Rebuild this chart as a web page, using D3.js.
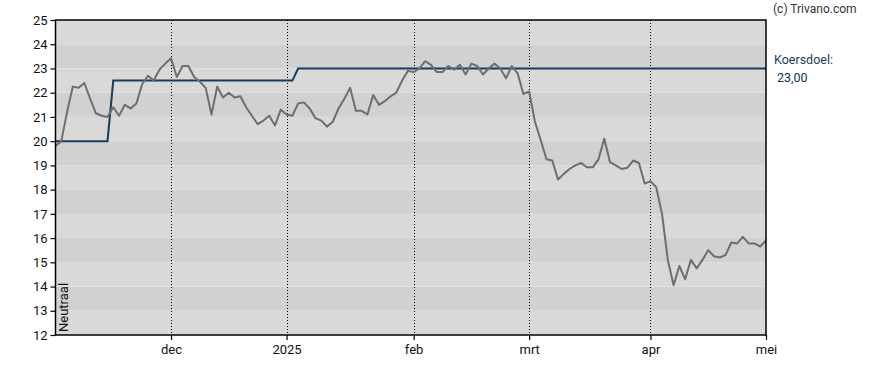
<!DOCTYPE html>
<html lang="nl">
<head>
<meta charset="UTF-8">
<title>Koers en koersdoel</title>
<script src="https://d3js.org/d3.v7.min.js"></script>
<style>
  body { margin: 0; background: #fff; }
  svg text { font-family: Roboto, "Liberation Sans", Arial, sans-serif; }
</style>
</head>
<body>
<script>
// slotkoersen per handelsdag (index 0 = eerste dag van de grafiek)
const prices = [
  19.8, 20.0, 21.2, 22.25, 22.2, 22.4, 21.75, 21.15, 21.05, 21.0,
  21.4, 21.05, 21.5, 21.35, 21.55, 22.35, 22.7, 22.5, 22.95, 23.2,
  23.42, 22.65, 23.1, 23.1, 22.65, 22.45, 22.2, 21.1, 22.25, 21.8,
  22.0, 21.8, 21.85, 21.4, 21.05, 20.7, 20.85, 21.05, 20.65, 21.3,
  21.1, 21.05, 21.55, 21.6, 21.35, 20.95, 20.85, 20.6, 20.8, 21.35,
  21.75, 22.2, 21.25, 21.25, 21.1, 21.9, 21.5, 21.65, 21.85, 22.0,
  22.5, 22.9, 22.85, 23.0, 23.3, 23.15, 22.85, 22.85, 23.1, 22.95,
  23.15, 22.75, 23.2, 23.1, 22.75, 23.0, 23.2, 23.0, 22.6, 23.1,
  22.8, 21.95, 22.05, 20.8, 20.05, 19.25, 19.2, 18.42, 18.65, 18.85,
  19.0, 19.1, 18.92, 18.92, 19.25, 20.1, 19.13, 19.0, 18.85, 18.9,
  19.2, 19.1, 18.25, 18.35, 18.1, 17.0, 15.1, 14.05, 14.85, 14.3,
  15.1, 14.75, 15.1, 15.5, 15.25, 15.2, 15.3, 15.82, 15.78, 16.05,
  15.78, 15.78, 15.65, 15.9
];

// koersdoel: waarde en de handelsdag waarop die ingaat
const targetValues = [20, 22.5, 23];
const targetStarts = [0, 10, 42];

const monthLabels = ["dec", "2025", "feb", "mrt", "apr", "mei"];
const monthIndex = [20, 40, 62, 82, 103, 123];

const yTicks = [12, 13, 14, 15, 16, 17, 18, 19, 20, 21, 22, 23, 24, 25];

const width = 888, height = 370;
const margin = { top: 20, right: 122, bottom: 35, left: 55.5 };

const svg = d3.select("body").append("svg")
  .attr("width", width)
  .attr("height", height);

const x = d3.scaleLinear()
  .domain([0, prices.length - 1])
  .range([margin.left, width - margin.right]);

const y = d3.scaleLinear()
  .domain([12, 25])
  .range([height - margin.bottom, margin.top]);

// koersdoel per dag uitschrijven uit de stappen
const target = prices.map((p, i) => {
  let v = targetValues[0];
  targetStarts.forEach((s, k) => { if (i >= s) v = targetValues[k]; });
  return v;
});

// grijze banden
svg.append("g").selectAll("rect")
  .data(yTicks.slice(0, -1))
  .join("rect")
  .attr("x", margin.left)
  .attr("width", x.range()[1] - margin.left)
  .attr("y", d => y(d + 1))
  .attr("height", d => y(d) - y(d + 1))
  .attr("fill", d => d % 2 === 0 ? "#d9d9d9" : "#d1d1d1");

// gestippelde maandlijnen
svg.append("g").selectAll("line")
  .data(monthIndex.slice(0, -1))
  .join("line")
  .attr("x1", d => Math.round(x(d)) + 0.5)
  .attr("x2", d => Math.round(x(d)) + 0.5)
  .attr("y1", y(25))
  .attr("y2", y(12))
  .attr("stroke", "#000")
  .attr("stroke-width", 1)
  .attr("stroke-dasharray", "1,2");

// koersdoel lijn
svg.append("path")
  .datum(target)
  .attr("fill", "none")
  .attr("stroke", "#143d5f")
  .attr("stroke-width", 2)
  .attr("d", d3.line().x((d, i) => x(i)).y(d => y(d)));

// koers
svg.append("path")
  .datum(prices)
  .attr("fill", "none")
  .attr("stroke", "#6e6e6e")
  .attr("stroke-width", 2)
  .attr("stroke-linejoin", "round")
  .attr("d", d3.line().x((d, i) => x(i)).y(d => y(d)));

// kader
svg.append("rect")
  .attr("x", margin.left)
  .attr("y", margin.top)
  .attr("width", x.range()[1] - margin.left)
  .attr("height", y(12) - y(25))
  .attr("fill", "none")
  .attr("stroke", "#000")
  .attr("stroke-width", 1.5);

// assen
const yAxis = svg.append("g")
  .attr("transform", `translate(${margin.left},0)`)
  .call(d3.axisLeft(y).tickValues(yTicks).tickSize(5).tickPadding(3).tickFormat(d3.format("d")));
yAxis.select(".domain").remove();
yAxis.selectAll("line").attr("stroke", "#000").attr("stroke-width", 1.2);
yAxis.selectAll("text").attr("font-size", 13).attr("fill", "#111");

const xAxis = svg.append("g")
  .attr("transform", `translate(0,${y(12)})`)
  .call(d3.axisBottom(x).tickValues(monthIndex).tickSize(5).tickPadding(5)
    .tickFormat((d, i) => monthLabels[i]));
xAxis.select(".domain").remove();
xAxis.selectAll("line").attr("stroke", "#000").attr("stroke-width", 1.2);
xAxis.selectAll("text").attr("font-size", 13).attr("fill", "#111");

// teksten
svg.append("text")
  .attr("transform", `translate(68,${y(12) - 3}) rotate(-90)`)
  .attr("font-size", 13)
  .attr("fill", "#111")
  .text("Neutraal");

svg.append("text")
  .attr("x", 773).attr("y", 13)
  .attr("font-size", 12)
  .attr("fill", "#333")
  .text("(c) Trivano.com");

svg.append("text")
  .attr("x", 774).attr("y", 64)
  .attr("font-size", 12.5)
  .attr("fill", "#1e3f5c")
  .text("Koersdoel:");

svg.append("text")
  .attr("x", 777).attr("y", 82)
  .attr("font-size", 12.5)
  .attr("fill", "#143352")
  .text(d3.format(".2f")(targetValues[targetValues.length - 1]).replace(".", ","));
</script>
</body>
</html>
